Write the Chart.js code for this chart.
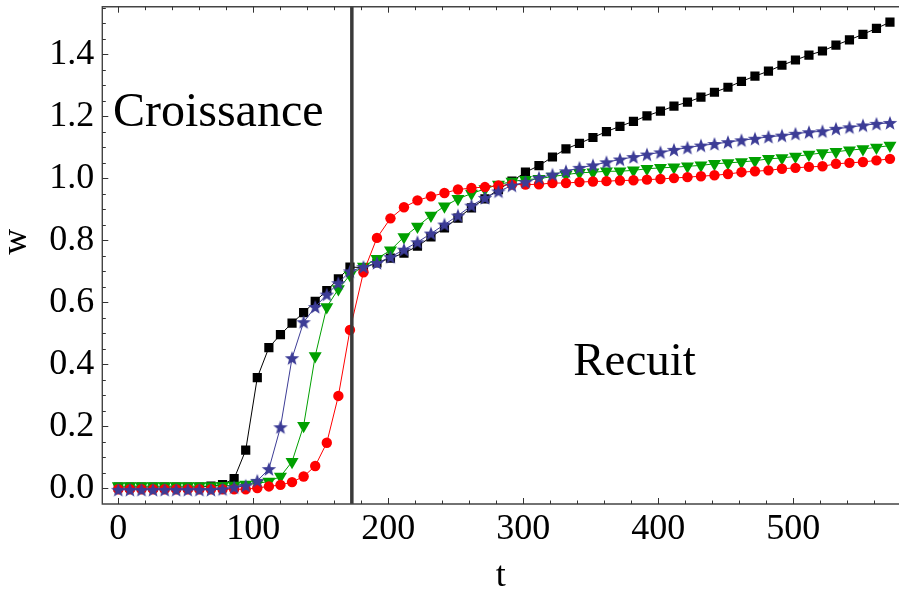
<!DOCTYPE html>
<html>
<head>
<meta charset="utf-8">
<script src="https://cdn.jsdelivr.net/npm/chart.js@4.4.1/dist/chart.umd.min.js"></script>
<style>
  html, body { margin: 0; padding: 0; background: #fff; overflow: hidden; }
  #wrap { width: 899px; height: 591px; position: relative; }
  canvas { display: block; }
</style>
</head>
<body>
<div id="wrap"><canvas id="c" width="899" height="591"></canvas></div>
<script>
// ---- data ----
const tValues = [0, 8.58, 17.16, 25.74, 34.32, 42.9, 51.48, 60.06, 68.64, 77.22, 85.8, 94.38, 102.96, 111.54, 120.12, 128.7, 137.28, 145.86, 154.44, 163.02, 171.6,
  181.6, 191.6, 201.6, 211.6, 221.6, 231.6, 241.6, 251.6, 261.6, 271.6, 281.6, 291.6, 301.6, 311.6, 321.6, 331.6, 341.6, 351.6, 361.6, 371.6,
  381.6, 391.6, 401.6, 411.6, 421.6, 431.6, 441.6, 451.6, 461.6, 471.6, 481.6, 491.6, 501.6, 511.6, 521.6, 531.6, 541.6, 551.6, 561.6, 571.6];

const wSquares = [0.004, 0.004, 0.004, 0.004, 0.004, 0.004, 0.004, 0.004, 0.007, 0.012, 0.031, 0.123, 0.357, 0.454, 0.496, 0.533, 0.567, 0.603, 0.638, 0.676, 0.714,
  0.712, 0.727, 0.743, 0.759, 0.781, 0.811, 0.840, 0.872, 0.905, 0.934, 0.964, 0.991, 1.020, 1.041, 1.069, 1.095, 1.113, 1.132, 1.151, 1.168,
  1.184, 1.202, 1.217, 1.233, 1.246, 1.262, 1.278, 1.294, 1.313, 1.330, 1.346, 1.365, 1.382, 1.398, 1.411, 1.430, 1.447, 1.465, 1.484, 1.504];

const wStars = [-0.005, -0.005, -0.005, -0.005, -0.005, -0.005, -0.005, -0.005, -0.005, -0.003, 0.003, 0.008, 0.024, 0.062, 0.197, 0.420, 0.536, 0.585, 0.625, 0.662, 0.700,
  0.714, 0.727, 0.746, 0.770, 0.794, 0.822, 0.851, 0.880, 0.912, 0.937, 0.958, 0.977, 0.988, 1.002, 1.012, 1.023, 1.034, 1.042, 1.052, 1.061,
  1.069, 1.077, 1.084, 1.092, 1.099, 1.106, 1.111, 1.117, 1.123, 1.128, 1.134, 1.138, 1.144, 1.149, 1.152, 1.160, 1.165, 1.171, 1.176, 1.179];

const wTriangles = [0.007, 0.007, 0.007, 0.007, 0.007, 0.007, 0.007, 0.007, 0.007, 0.008, 0.009, 0.012, 0.016, 0.022, 0.038, 0.086, 0.202, 0.427, 0.585, 0.643, 0.688,
  0.716, 0.741, 0.768, 0.811, 0.845, 0.880, 0.910, 0.934, 0.951, 0.966, 0.980, 0.990, 0.996, 0.999, 1.006, 1.012, 1.018, 1.020, 1.023, 1.023,
  1.026, 1.031, 1.034, 1.036, 1.039, 1.042, 1.047, 1.050, 1.053, 1.057, 1.063, 1.066, 1.071, 1.077, 1.082, 1.086, 1.091, 1.095, 1.100, 1.106];

const wCircles = [-0.003, -0.003, -0.003, -0.003, -0.003, -0.003, -0.003, -0.003, -0.003, -0.003, -0.003, -0.003, 0.001, 0.006, 0.011, 0.020, 0.038, 0.072, 0.147, 0.298, 0.511,
  0.697, 0.808, 0.871, 0.907, 0.929, 0.942, 0.953, 0.964, 0.969, 0.972, 0.977, 0.980, 0.980, 0.981, 0.985, 0.985, 0.988, 0.990, 0.991, 0.993,
  0.994, 0.996, 0.998, 1.001, 1.004, 1.007, 1.010, 1.014, 1.020, 1.023, 1.026, 1.031, 1.034, 1.037, 1.039, 1.047, 1.050, 1.053, 1.058, 1.063];

const xTickValues = [0, 100, 200, 300, 400, 500];
const yTickValues = [0, 0.2, 0.4, 0.6, 0.8, 1.0, 1.2, 1.4];
const transitionT = 173;
const labelCroissance = { text: 'Croissance', t: -4, w: 1.168 };
const labelRecuit = { text: 'Recuit', t: 337, w: 0.366 };

// ---- styling ----
const SERIF = '"Liberation Serif", "Times New Roman", serif';

function makeStar(color, R, r) {
  const s = Math.ceil(2 * R + 2);
  const c = document.createElement('canvas');
  c.width = s; c.height = s;
  const g = c.getContext('2d');
  g.fillStyle = color;
  g.beginPath();
  for (let k = 0; k < 10; k++) {
    const ang = -Math.PI / 2 + k * Math.PI / 5;
    const rad = (k % 2) ? r : R;
    g.lineTo(s / 2 + rad * Math.cos(ang), s / 2 + rad * Math.sin(ang) + 0.6);
  }
  g.closePath();
  g.fill();
  return c;
}
const starImg = makeStar('#3c3c96', 7.6, 3.2);

function pts(vals) { return vals.map((v, i) => ({ x: tValues[i], y: v })); }

const framePlugin = {
  id: 'framePlugin',
  afterDatasetsDraw(chart) {
    const { ctx, chartArea: a, scales: { x, y } } = chart;
    ctx.save();
    // vertical transition line
    const vx = x.getPixelForValue(transitionT);
    ctx.strokeStyle = '#3a3a3a';
    ctx.lineWidth = 3.5;
    ctx.beginPath(); ctx.moveTo(vx, a.top); ctx.lineTo(vx, a.bottom); ctx.stroke();
    // frame (left, top, bottom; the right side lies beyond the picture)
    ctx.strokeStyle = '#444';
    ctx.lineWidth = 1.4;
    ctx.beginPath();
    ctx.moveTo(a.right + 2, a.top); ctx.lineTo(a.left, a.top); ctx.lineTo(a.left, a.bottom); ctx.lineTo(a.right + 2, a.bottom);
    ctx.stroke();
    // inward ticks
    ctx.lineWidth = 1;
    ctx.strokeStyle = '#333';
    ctx.beginPath();
    for (let v = 0; v <= x.max; v += 20) {
      const px = Math.round(x.getPixelForValue(v)) + 0.5;
      const len = (v % 100 === 0) ? 6 : 3.5;
      ctx.moveTo(px, a.bottom); ctx.lineTo(px, a.bottom - len);
      ctx.moveTo(px, a.top); ctx.lineTo(px, a.top + len);
    }
    for (let k = 0; k * 0.05 <= y.max; k++) {
      const py = Math.round(y.getPixelForValue(k * 0.05)) + 0.5;
      const len = (k % 4 === 0) ? 6 : 3.5;
      ctx.moveTo(a.left, py); ctx.lineTo(a.left + len, py);
    }
    ctx.stroke();
    // annotations
    ctx.fillStyle = '#000';
    ctx.textBaseline = 'alphabetic';
    ctx.textAlign = 'left';
    ctx.font = '48px ' + SERIF;
    ctx.fillText(labelCroissance.text, x.getPixelForValue(labelCroissance.t), y.getPixelForValue(labelCroissance.w));
    ctx.font = '47px ' + SERIF;
    ctx.fillText(labelRecuit.text, x.getPixelForValue(labelRecuit.t), y.getPixelForValue(labelRecuit.w));
    ctx.restore();
  }
};

new Chart(document.getElementById('c'), {
  type: 'line',
  data: {
    datasets: [
      { label: 'étoiles', data: pts(wStars), borderColor: '#3c3c96', borderWidth: 1, pointStyle: starImg, pointRadius: 7, backgroundColor: '#3c3c96', pointBorderWidth: 0 },
      { label: 'cercles', data: pts(wCircles), borderColor: '#ff0000', borderWidth: 1, pointStyle: 'circle', pointRadius: 5.2, backgroundColor: '#ff0000', pointBorderWidth: 0 },
      { label: 'triangles', data: pts(wTriangles), borderColor: '#00a000', borderWidth: 1, pointStyle: 'triangle', rotation: 180, pointRotation: 180, pointRadius: 7.5, backgroundColor: '#00a000', pointBorderWidth: 0 },
      { label: 'carrés', data: pts(wSquares), borderColor: '#000000', borderWidth: 1, pointStyle: 'rect', pointRadius: 6.5, backgroundColor: '#000000', pointBorderWidth: 0 }
    ]
  },
  options: {
    responsive: false,
    animation: false,
    events: [],
    layout: { autoPadding: false, padding: { top: 6.7, right: 0, bottom: 0, left: 0 } },
    plugins: { legend: { display: false }, tooltip: { enabled: false }, title: { display: false } },
    elements: { line: { tension: 0 } },
    scales: {
      x: {
        type: 'linear', position: 'bottom', min: -11.85, max: 578.3,
        grid: { display: false }, border: { display: false },
        afterBuildTicks: s => { s.ticks = xTickValues.map(v => ({ value: v })); },
        afterFit: s => { s.height = 87; s.paddingLeft = 0; s.paddingRight = 0; },
        ticks: { font: { family: SERIF, size: 36 }, color: '#000', padding: -4, maxRotation: 0, callback: v => String(v) },
        title: { display: true, text: 't', font: { family: SERIF, size: 36, lineHeight: 0.8 }, color: '#000', padding: 0 }
      },
      y: {
        type: 'linear', position: 'left', min: -0.0507, max: 1.554,
        grid: { display: false }, border: { display: false },
        afterBuildTicks: s => { s.ticks = yTickValues.map(v => ({ value: v })); },
        afterFit: s => { s.width = 102.3; s.paddingTop = 0; s.paddingBottom = 0; },
        ticks: { font: { family: SERIF, size: 36 }, color: '#000', padding: 0, callback: v => Number(v).toFixed(1) },
        title: { display: true, text: '   w', font: { family: SERIF, size: 36, lineHeight: 0.9 }, color: '#000', padding: 0 }
      }
    }
  },
  plugins: [framePlugin]
});
</script>
</body>
</html>
